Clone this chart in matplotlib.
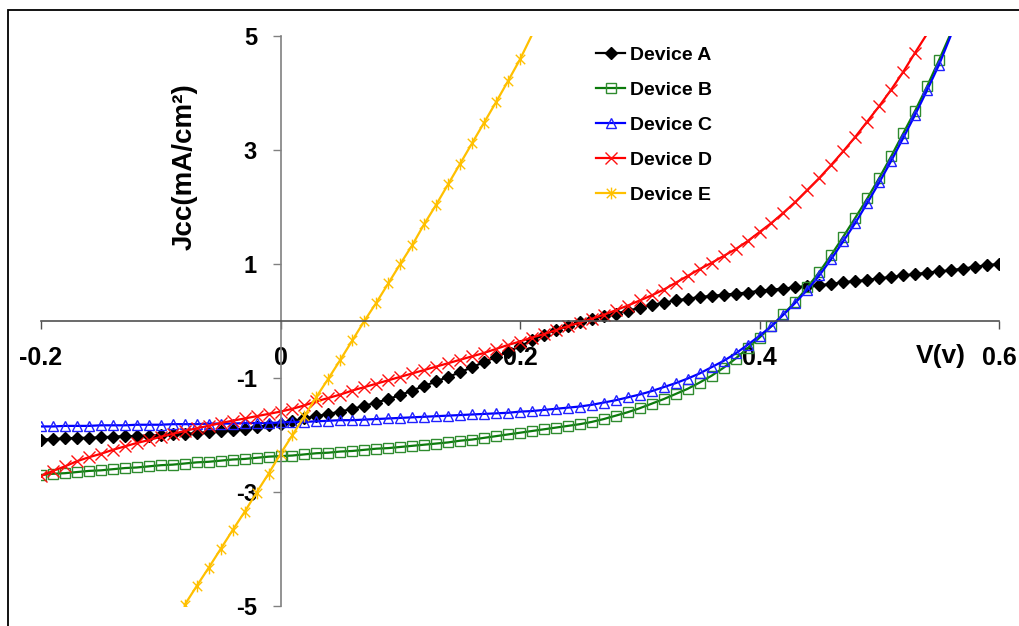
import numpy as np
import matplotlib
matplotlib.use("Agg")
import matplotlib.pyplot as plt
from matplotlib.path import Path
from matplotlib.patches import Rectangle

plt.rcParams['font.family'] = ['Liberation Sans', 'DejaVu Sans']
plt.rcParams['font.weight'] = 'bold'

# ---------------- data ----------------
v_full = np.round(np.arange(-20, 61) / 100, 2)      # -0.20 ... 0.60 V, step 0.01
v_b = v_full[:77]                                  # -0.20 ... 0.56
v_d = v_full[:75]                                  # -0.20 ... 0.54
v_e = v_full[12:42]                                # -0.08 ... 0.21

dev_a = [-2.08, -2.07, -2.06, -2.05, -2.05, -2.04, -2.03, -2.02, -2.02, -2.01,
         -2.00, -1.99, -1.98, -1.97, -1.95, -1.93, -1.91, -1.89, -1.86, -1.83,
         -1.80,
         -1.75, -1.71, -1.67, -1.63, -1.59, -1.54, -1.49, -1.43, -1.37, -1.30,
         -1.22, -1.14, -1.06, -0.98, -0.90, -0.81, -0.72, -0.63, -0.54, -0.44,
         -0.34, -0.24, -0.16, -0.09, -0.02, 0.04, 0.09, 0.13, 0.18, 0.23,
         0.28, 0.32, 0.36, 0.39, 0.42, 0.44, 0.46, 0.48, 0.50, 0.53,
         0.55, 0.57, 0.59, 0.61, 0.63, 0.65, 0.68, 0.70, 0.72, 0.75,
         0.77, 0.80, 0.82, 0.85, 0.87, 0.89, 0.92, 0.95, 0.98, 1.00]

dev_b = [-2.70, -2.68, -2.67, -2.65, -2.63, -2.62, -2.60, -2.58, -2.57, -2.55,
         -2.53, -2.52, -2.50, -2.48, -2.47, -2.45, -2.43, -2.42, -2.40, -2.38,
         -2.37,
         -2.36, -2.34, -2.32, -2.31, -2.29, -2.28, -2.26, -2.24, -2.23, -2.21,
         -2.19, -2.17, -2.15, -2.13, -2.10, -2.08, -2.05, -2.02, -1.99, -1.96,
         -1.93, -1.90, -1.87, -1.84, -1.81, -1.77, -1.72, -1.66, -1.60, -1.53,
         -1.45, -1.37, -1.28, -1.19, -1.08, -0.96, -0.82, -0.66, -0.48, -0.29,
         -0.09, 0.12, 0.34, 0.59, 0.86, 1.16, 1.48, 1.81, 2.15, 2.51,
         2.89, 3.29, 3.69, 4.12, 4.58, 5.06]

dev_c = [-1.85, -1.85, -1.84, -1.84, -1.84, -1.83, -1.83, -1.83, -1.82, -1.82,
         -1.82, -1.81, -1.81, -1.81, -1.80, -1.80, -1.80, -1.79, -1.79, -1.79,
         -1.78,
         -1.77, -1.77, -1.76, -1.75, -1.74, -1.74, -1.73, -1.72, -1.71, -1.70,
         -1.69, -1.68, -1.67, -1.66, -1.65, -1.64, -1.63, -1.62, -1.61, -1.59,
         -1.58, -1.56, -1.54, -1.52, -1.50, -1.47, -1.43, -1.39, -1.34, -1.29,
         -1.23, -1.16, -1.09, -1.01, -0.92, -0.81, -0.70, -0.57, -0.42, -0.26,
         -0.09, 0.11, 0.32, 0.55, 0.80, 1.09, 1.40, 1.72, 2.07, 2.43,
         2.81, 3.21, 3.62, 4.05, 4.50, 5.02]

dev_d = [-2.72, -2.63, -2.55, -2.46, -2.39, -2.33, -2.26, -2.20, -2.14, -2.09,
         -2.03, -1.98, -1.93, -1.88, -1.84, -1.79, -1.75, -1.71, -1.67, -1.63,
         -1.59,
         -1.54, -1.48, -1.41, -1.35, -1.29, -1.22, -1.16, -1.10, -1.04, -0.98,
         -0.92, -0.86, -0.80, -0.74, -0.68, -0.62, -0.56, -0.49, -0.42, -0.36,
         -0.29, -0.23, -0.16, -0.09, -0.03, 0.04, 0.11, 0.19, 0.27, 0.36,
         0.45, 0.55, 0.67, 0.79, 0.91, 1.02, 1.14, 1.26, 1.40, 1.56,
         1.72, 1.90, 2.09, 2.30, 2.51, 2.74, 2.98, 3.23, 3.50, 3.77,
         4.06, 4.37, 4.71, 5.04]

dev_e = [-4.98, -4.65, -4.33, -4.00, -3.67, -3.35, -3.01, -2.68, -2.33, -2.00,
         -1.67, -1.33, -1.01, -0.68, -0.34, 0.00, 0.32, 0.66, 1.00, 1.33,
         1.70, 2.04, 2.40, 2.76, 3.12, 3.48, 3.84, 4.21, 4.59, 5.02]

labels = ["Device A", "Device B", "Device C", "Device D", "Device E"]
x_ticks = [-0.2, 0, 0.2, 0.4, 0.6]
x_tick_labels = ["-0.2", "0", "0.2", "0.4", "0.6"]
y_ticks = [5, 3, 1, -1, -3, -5]
y_tick_labels = ["5", "3", "1", "-1", "-3", "-5"]

# ---------------- figure ----------------
W, H = 1019, 626
fig = plt.figure(figsize=(W / 100, H / 100), dpi=100)
fig.patch.set_facecolor('white')

# outer chart-area border (runs off the right/bottom edges)
fig.add_artist(Rectangle((8 / W, -0.5), 2.0, 0.5 + 1 - 10 / H,
                         transform=fig.transFigure, fill=False,
                         ec='black', lw=1.3))

ax = fig.add_axes([41 / W, 20 / H, 958 / W, 570 / H])
ax.set_xlim(-0.2, 0.6)
ax.set_ylim(-5, 5)
ax.patch.set_alpha(0)

star = Path([(0, -1), (0, 1), (-0.8, -0.8), (0.8, 0.8), (-0.8, 0.8), (0.8, -0.8)],
            [Path.MOVETO, Path.LINETO, Path.MOVETO, Path.LINETO, Path.MOVETO, Path.LINETO])

series = [
    (v_full, dev_a, dict(color='black', marker='D', ms=6.5, mfc='black', mec='black', mew=1)),
    (v_b, dev_b, dict(color='#0B7A0B', marker='s', ms=7.5, mfc='none', mec='#2E8B2E', mew=1)),
    (v_b, dev_c, dict(color='#0000FF', marker='^', ms=7.5, mfc='none', mec='#2020FF', mew=1)),
    (v_d, dev_d, dict(color='#FF0000', marker='x', ms=8, mec='#FF1010', mew=1)),
    (v_e, dev_e, dict(color='#FFC000', marker=star, ms=8.5, mfc='none', mec='#FFC000', mew=1)),
]

for (xv, yv, st), lab in zip(series, labels):
    yv = np.asarray(yv)
    mask = list(np.abs(yv) <= 5.0)
    ax.plot(xv, yv, lw=1.6, label=lab, markevery=mask, **st)

# axes through the origin
for s in ['top', 'right']:
    ax.spines[s].set_visible(False)
ax.spines['left'].set_position(('data', 0))
ax.spines['bottom'].set_position(('data', 0))
ax.spines['left'].set_color('#808080')
ax.spines['bottom'].set_color('#505050')
ax.spines['left'].set_linewidth(1.2)
ax.spines['bottom'].set_linewidth(1.2)

ax.set_xticks(x_ticks)
ax.set_xticklabels(x_tick_labels)
ax.set_yticks(y_ticks)
ax.set_yticklabels(y_tick_labels)
ax.tick_params(axis='x', direction='out', length=6, width=1, color='#505050',
               labelsize=18, pad=12)
ax.tick_params(axis='y', direction='out', length=6, width=1, color='#808080',
               labelsize=17, pad=11)
for t in ax.get_xticklabels() + ax.get_yticklabels():
    t.set_fontweight('bold')

ax.text((941 - 41) / 958, (606 - 356) / 570, "V(v)", transform=ax.transAxes,
        ha='center', va='center', fontsize=19, fontweight='bold')
ax.text((185 - 41) / 958, (606 - 167) / 570, "Jcc(mA/cm²)", transform=ax.transAxes,
        ha='center', va='center', rotation=90, fontsize=20, fontweight='bold')

leg = ax.legend(loc='upper left', bbox_to_anchor=(596 / W, 1 - 46 / H),
                bbox_transform=fig.transFigure, frameon=False,
                prop=dict(size=14, weight='bold'), handlelength=1.5,
                handletextpad=0.25, labelspacing=0.9, borderpad=0,
                borderaxespad=0)

fig.savefig("out.png", dpi=100)
